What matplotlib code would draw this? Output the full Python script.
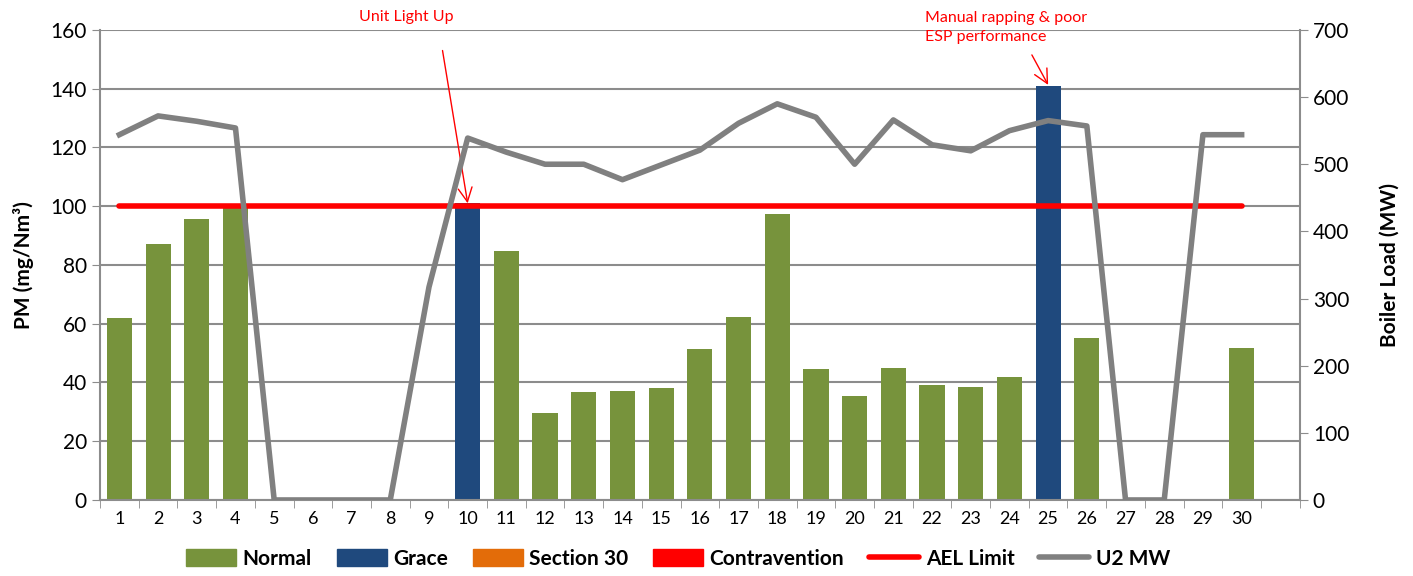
import numpy as np
import matplotlib.pyplot as plt
from matplotlib.patches import Patch
from matplotlib.lines import Line2D

plt.rcParams['font.family'] = ['Lato', 'DejaVu Sans']

# данные
days = list(range(1, 31))
pm = [62, 87, 95.5, 99.5, 0, 0, 0, 0, 0, 101,
      84.8, 29.5, 36.8, 37, 38, 51.5, 62.3, 97.5, 44.5, 35.5,
      45, 39, 38.5, 42, 141, 55.2, 0, 0, 0, 51.8]
status = ['Normal'] * 30
status[9] = 'Grace'
status[24] = 'Grace'
u2_mw = [544, 572, 564, 554, 0, 0, 0, 0, 317, 539,
         518, 500, 500, 477, 499, 521, 561, 590, 570, 500,
         566, 529, 520, 550, 565, 557, 0, 0, 544, 544]
ael_limit = [100] * 30

colors = {'Normal': '#77933C', 'Grace': '#1F497D',
          'Section 30': '#E36C09', 'Contravention': '#FF0000'}

fig = plt.figure(figsize=(14.13, 5.76), dpi=100)
ax = fig.add_axes([0.0708, 0.132, 0.849, 0.816])
ax2 = ax.twinx()

x = np.array(days)
ax.bar(x, pm, width=0.65, color=[colors[s] for s in status], zorder=2)
ax.plot(x, ael_limit, color='#FF0000', lw=4, solid_capstyle='round', zorder=3)
ax2.plot(x, u2_mw, color='#808080', lw=4, zorder=3)

ax.set_xlim(0.5, 31.5)
ax.set_ylim(0, 160)
ax2.set_ylim(0, 700)
ax.set_yticks(np.arange(0, 161, 20))
ax2.set_yticks(np.arange(0, 701, 100))
ax.grid(axis='y', color='#8c8c8c', lw=1.5, zorder=0)
ax.set_axisbelow(True)

ax.set_xticks(x)
ax.set_xticklabels([str(d) for d in days])
ax.set_xticks(np.arange(0.5, 32, 1), minor=True)
ax.tick_params(axis='x', which='major', length=0, labelsize=13, pad=8)
ax.tick_params(axis='x', which='minor', length=6, color='#8c8c8c')
ax.tick_params(axis='y', labelsize=15, length=6, color='#8c8c8c')
ax2.tick_params(axis='y', labelsize=15, length=6, color='#8c8c8c')

for a in (ax, ax2):
    for side in ['top', 'right', 'left', 'bottom']:
        a.spines[side].set_visible(False)
ax.spines['left'].set_visible(True)
ax.spines['bottom'].set_visible(True)
ax2.spines['right'].set_visible(True)
for sp in (ax.spines['left'], ax.spines['bottom'], ax2.spines['right']):
    sp.set_color('#8c8c8c')
    sp.set_linewidth(1.5)

ax.set_ylabel('PM (mg/Nm³)', fontsize=15, fontweight='bold', labelpad=12)
ax2.set_ylabel('Boiler Load (MW)', fontsize=15, fontweight='bold', labelpad=22)

# аннотации
ax.text(8.42, 164.4, 'Unit Light Up', fontsize=11.5, color='#FF0000',
        ha='center', va='center', clip_on=False)
ax.annotate('', xy=(10, 101), xytext=(9.35, 153), annotation_clip=False,
            arrowprops=dict(arrowstyle='->', color='#FF0000', lw=1,
                            shrinkA=0, shrinkB=0, mutation_scale=25))
ax.text(21.83, 166.5, 'Manual rapping & poor\nESP performance', fontsize=11.5,
        color='#FF0000', ha='left', va='top', linespacing=1.45, clip_on=False)
ax.annotate('', xy=(25, 141.3), xytext=(24.58, 151.5), annotation_clip=False,
            arrowprops=dict(arrowstyle='->', color='#FF0000', lw=1,
                            shrinkA=0, shrinkB=0, mutation_scale=25))

handles = [Patch(color=colors['Normal']), Patch(color=colors['Grace']),
           Patch(color=colors['Section 30']), Patch(color=colors['Contravention']),
           Line2D([], [], color='#FF0000', lw=4, solid_capstyle='round'),
           Line2D([], [], color='#808080', lw=4, solid_capstyle='round')]
labels = ['Normal', 'Grace', 'Section 30', 'Contravention', 'AEL Limit', 'U2 MW']
fig.legend(handles, labels, loc='center', bbox_to_anchor=(0.48, 0.03), ncol=6,
           frameon=False, prop={'size': 15, 'weight': 'bold'},
           handlelength=2.4, handleheight=0.9, columnspacing=1.2, handletextpad=0.3)

fig.savefig('out.png', dpi=100)
